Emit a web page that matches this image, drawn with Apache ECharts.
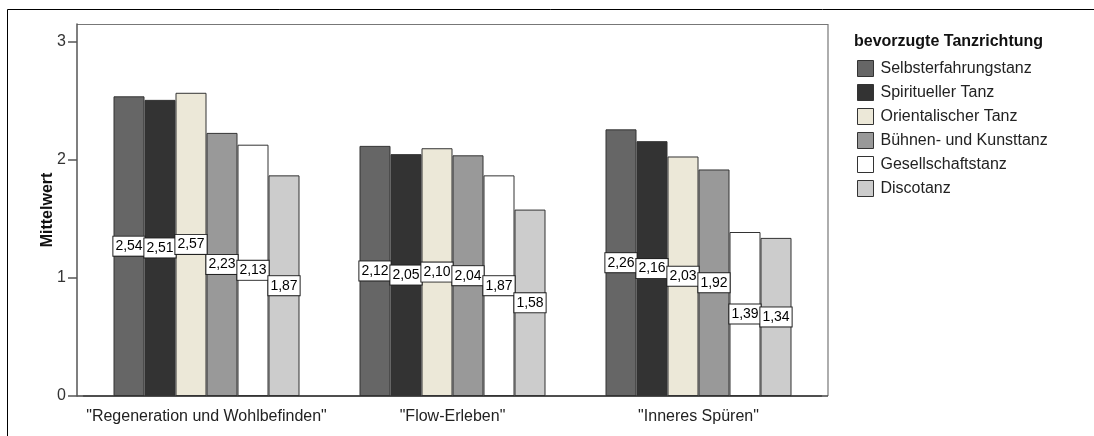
<!DOCTYPE html>
<html>
<head>
<meta charset="utf-8">
<script src="https://cdn.jsdelivr.net/npm/echarts@6/dist/echarts.min.js"></script>
<style>
  html, body { margin: 0; padding: 0; background: #fff; }
  #chart { width: 1094px; height: 436px; }
</style>
</head>
<body>
<div id="chart"></div>
<script>
// Mittelwerte je Skala und bevorzugter Tanzrichtung
const categories = ['"Regeneration und Wohlbefinden"', '"Flow-Erleben"', '"Inneres Spüren"'];
const seriesNames = ['Selbsterfahrungstanz', 'Spiritueller Tanz', 'Orientalischer Tanz',
                     'Bühnen- und Kunsttanz', 'Gesellschaftstanz', 'Discotanz'];
const selbsterfahrung = [2.54, 2.12, 2.26];
const spirituell      = [2.51, 2.05, 2.16];
const orientalisch    = [2.57, 2.10, 2.03];
const buehneKunst     = [2.23, 2.04, 1.92];
const gesellschaft    = [2.13, 1.87, 1.39];
const disco           = [1.87, 1.58, 1.34];
const yTicks = [0, 1, 2, 3];

const seriesValues = [selbsterfahrung, spirituell, orientalisch, buehneKunst, gesellschaft, disco];
const fills = ['#666666', '#333333', '#ECE8D8', '#999999', '#FFFFFF', '#CCCCCC'];
const FONT = '"Liberation Sans", Arial, sans-serif';

// Grid: bars occupy the inner band, the plot frame sits a little outside it
const gridLeft = 83.5, gridRight = 272.5, gridTop = 24, gridBottom = 40;
const framePad = 6.5;
const W = 1094, H = 436;

const chart = echarts.init(document.getElementById('chart'), null, { renderer: 'canvas' });

const fmt = v => v.toFixed(2).replace('.', ',');

chart.setOption({
  animation: false,
  backgroundColor: '#fff',
  textStyle: { fontFamily: FONT },
  title: {
    text: 'bevorzugte Tanzrichtung',
    left: 854, top: 34, padding: 0,
    textStyle: { fontFamily: FONT, fontSize: 16, fontWeight: 'bold', color: '#111' }
  },
  legend: {
    orient: 'vertical',
    left: 857, top: 60, padding: 0,
    itemWidth: 16, itemHeight: 16, itemGap: 7,
    icon: 'rect',
    itemStyle: { borderColor: '#333', borderWidth: 1 },
    textStyle: { fontFamily: FONT, fontSize: 16, color: '#222', padding: [0, 0, 0, 2] },
    data: seriesNames
  },
  grid: { left: gridLeft, right: gridRight, top: gridTop, bottom: gridBottom },
  xAxis: {
    type: 'category',
    data: categories,
    axisLine: { lineStyle: { color: '#444', width: 1.5 } },
    axisTick: { alignWithLabel: true, length: 11, lineStyle: { color: '#444', width: 1.5 } },
    axisLabel: { interval: 0, fontFamily: FONT, fontSize: 16, color: '#222', margin: 13 },
    splitLine: { show: false }
  },
  yAxis: {
    type: 'value',
    min: 0, max: 3.153,
    offset: framePad,
    name: 'Mittelwert',
    nameLocation: 'middle',
    nameGap: 21,
    nameMoveOverlap: false,
    nameTextStyle: { fontFamily: FONT, fontSize: 16, fontWeight: 'bold', color: '#111' },
    axisLine: { show: true, lineStyle: { color: '#555', width: 1.5 } },
    axisTick: { show: true, length: 9, customValues: yTicks, lineStyle: { color: '#555', width: 1.5 } },
    axisLabel: { fontFamily: FONT, fontSize: 16, color: '#333', margin: 11, customValues: yTicks },
    splitLine: { show: false }
  },
  graphic: [
    // outer frame (top and left edges)
    { type: 'line', silent: true, shape: { x1: 7.5, y1: 9.5, x2: W, y2: 9.5 }, style: { stroke: '#000', lineWidth: 1 } },
    { type: 'line', silent: true, shape: { x1: 7.5, y1: 9.5, x2: 7.5, y2: H }, style: { stroke: '#000', lineWidth: 1 } },
    // plot frame (top and right edges)
    { type: 'line', silent: true,
      shape: { x1: gridLeft - framePad, y1: gridTop + 0.5, x2: W - gridRight + framePad, y2: gridTop + 0.5 },
      style: { stroke: '#777', lineWidth: 1.2 } },
    { type: 'line', silent: true,
      shape: { x1: W - gridRight + framePad, y1: gridTop, x2: W - gridRight + framePad, y2: H - gridBottom },
      style: { stroke: '#777', lineWidth: 1.2 } },
    // bottom axis line extended to the frame corners
    { type: 'line', silent: true,
      shape: { x1: gridLeft - framePad, y1: H - gridBottom, x2: W - gridRight + framePad, y2: H - gridBottom },
      style: { stroke: '#444', lineWidth: 1.5 } }
  ],
  series: seriesNames.map((name, i) => ({
    name,
    type: 'bar',
    data: seriesValues[i],
    barWidth: 31,
    barGap: '0%',
    itemStyle: { color: fills[i], borderColor: '#333', borderWidth: 1 },
    label: {
      show: true,
      position: 'inside',
      formatter: p => fmt(p.value),
      fontFamily: FONT,
      fontSize: 14,
      color: '#000',
      backgroundColor: '#fff',
      borderColor: '#222',
      borderWidth: 1,
      padding: [3, 2, 2, 2]
    }
  }))
});
</script>
</body>
</html>
